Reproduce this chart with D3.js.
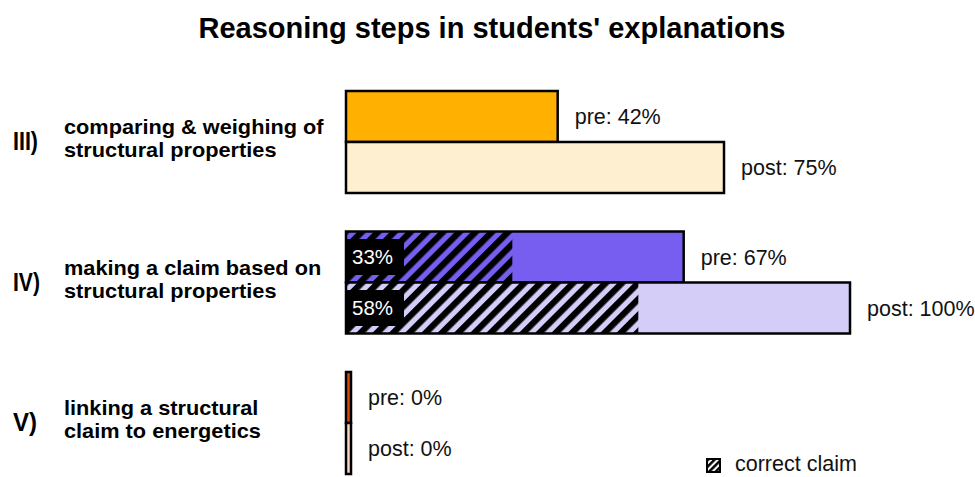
<!DOCTYPE html>
<html>
<head>
<meta charset="utf-8">
<script src="https://cdn.jsdelivr.net/npm/d3@7"></script>
<style>
  body { margin: 0; background: #fff; }
  text { font-family: "Liberation Sans", Arial, sans-serif; }
</style>
</head>
<body>
<svg id="chart" width="975" height="477"></svg>
<script>
// chart data
var categories = ["III)", "IV)", "V)"];
var descriptions = [
    ["comparing & weighing of", "structural properties"],
    ["making a claim based on", "structural properties"],
    ["linking a structural", "claim to energetics"]
];
var phases = ["pre", "post"];
var preValues = [42, 67, 0];
var postValues = [75, 100, 0];
var preCorrect = [null, 33, null];   // hatched share = correct claim
var postCorrect = [null, 58, null];
var preColors = ["#ffb000", "#785ef0", "#dc4a05"];
var postColors = ["#feefd0", "#d4cdf8", "#fdd5c0"];

var svg = d3.select("#chart");

// scales
var x = d3.scaleLinear().domain([0, 100]).range([346, 850]);
var yGroup = d3.scaleBand().domain(categories).range([91, 474]).paddingInner(0.274);
var yPhase = d3.scaleBand().domain(phases).range([0, yGroup.bandwidth()]);

var minBar = 5; // 0% bars still show as a thin sliver
var romanWidth = {"III)": 25, "IV)": 27, "V)": 24};
var stretch = 1.06; // reference text is a bit wider than Liberation Sans

// hatch patterns, one per bar colour + one for the legend
var defs = svg.append("defs");
function hatch(id, bg, size, stripe) {
    var p = defs.append("pattern")
        .attr("id", id)
        .attr("patternUnits", "userSpaceOnUse")
        .attr("width", size)
        .attr("height", size)
        .attr("patternTransform", "rotate(45)");
    p.append("rect").attr("width", size).attr("height", size).attr("fill", bg);
    p.append("rect").attr("width", stripe).attr("height", size).attr("fill", "#000");
}
preColors.forEach(function (c, i) { hatch("hatch-pre-" + i, c, 11.5, 6.3); });
postColors.forEach(function (c, i) { hatch("hatch-post-" + i, c, 11.5, 6.3); });
hatch("hatch-legend", "#fff", 4.6, 2.5);

// build rows
var rows = [];
categories.forEach(function (cat, i) {
    rows.push({cat: cat, i: i, phase: "pre", value: preValues[i], correct: preCorrect[i], color: preColors[i]});
    rows.push({cat: cat, i: i, phase: "post", value: postValues[i], correct: postCorrect[i], color: postColors[i]});
});

// title
svg.append("text")
    .attr("x", 492)
    .attr("y", 38)
    .attr("text-anchor", "middle")
    .style("font-size", "29px")
    .style("font-weight", "bold")
    .attr("fill", "#000")
    .text("Reasoning steps in students' explanations");

// category labels
var catGroup = svg.selectAll(".cat")
    .data(categories)
    .enter()
    .append("g")
    .attr("class", "cat")
    .attr("transform", function (d) {
        return "translate(0," + (yGroup(d) + yGroup.bandwidth() / 2) + ")";
    });

catGroup.append("text")
    .attr("x", 13)
    .attr("y", 8)
    .attr("textLength", function (d) { return romanWidth[d]; })
    .attr("lengthAdjust", "spacingAndGlyphs")
    .style("font-size", "25px")
    .style("font-weight", "bold")
    .text(function (d) { return d; });

// two separate lines per description
catGroup.each(function (d, i) {
    var g = d3.select(this);
    descriptions[i].forEach(function (line, k) {
        var t = g.append("text")
            .attr("x", 64)
            .attr("y", k === 0 ? -8 : 15)
            .style("font-size", "20.5px")
            .style("font-weight", "bold")
            .text(line);
        var w = t.node().getComputedTextLength();
        t.attr("textLength", w * stretch)
            .attr("lengthAdjust", "spacingAndGlyphs");
    });
});

// bars
var barG = svg.selectAll(".bar")
    .data(rows)
    .enter()
    .append("g")
    .attr("class", "bar")
    .attr("transform", function (d) {
        return "translate(0," + (yGroup(d.cat) + yPhase(d.phase)) + ")";
    });

function barW(v) {
    return Math.max(x(v) - x(0), minBar);
}

barG.append("rect")
    .attr("x", x(0))
    .attr("y", 0)
    .attr("width", function (d) { return barW(d.value); })
    .attr("height", yPhase.bandwidth())
    .attr("fill", function (d) { return d.color; });

// hatched part for correct claims
var hatched = barG.filter(function (d) { return d.correct !== null; });

hatched.append("rect")
    .attr("x", x(0))
    .attr("y", 0)
    .attr("width", function (d) { return x(d.correct) - x(0); })
    .attr("height", yPhase.bandwidth())
    .attr("fill", function (d) { return "url(#hatch-" + d.phase + "-" + d.i + ")"; });

// outline on top
barG.append("rect")
    .attr("x", x(0))
    .attr("y", 0)
    .attr("width", function (d) { return barW(d.value); })
    .attr("height", yPhase.bandwidth())
    .attr("fill", "none")
    .attr("stroke", "#000")
    .attr("stroke-width", 2.5);

// black box with the correct-claim percentage
hatched.append("rect")
    .attr("x", x(0))
    .attr("y", yPhase.bandwidth() / 2 - 18)
    .attr("width", 58)
    .attr("height", 36)
    .attr("fill", "#000");

hatched.append("text")
    .attr("x", x(0) + 6)
    .attr("y", yPhase.bandwidth() / 2)
    .attr("dy", "0.36em")
    .attr("fill", "#fff")
    .style("font-size", "20.5px")
    .text(function (d) { return d.correct + "%"; });

// value labels
barG.append("text")
    .attr("x", function (d) { return x(0) + barW(d.value) + 17; })
    .attr("y", yPhase.bandwidth() / 2)
    .attr("dy", "0.36em")
    .style("font-size", "21.5px")
    .attr("fill", "#111")
    .text(function (d) { return d.phase + ": " + d.value + "%"; });

// legend
var legend = svg.append("g").attr("transform", "translate(707,459)");
legend.append("rect")
    .attr("width", 13)
    .attr("height", 13)
    .attr("fill", "url(#hatch-legend)")
    .attr("stroke", "#000")
    .attr("stroke-width", 2);
legend.append("text")
    .attr("x", 28)
    .attr("y", 12)
    .style("font-size", "21.5px")
    .attr("fill", "#111")
    .text("correct claim");
</script>
</body>
</html>
